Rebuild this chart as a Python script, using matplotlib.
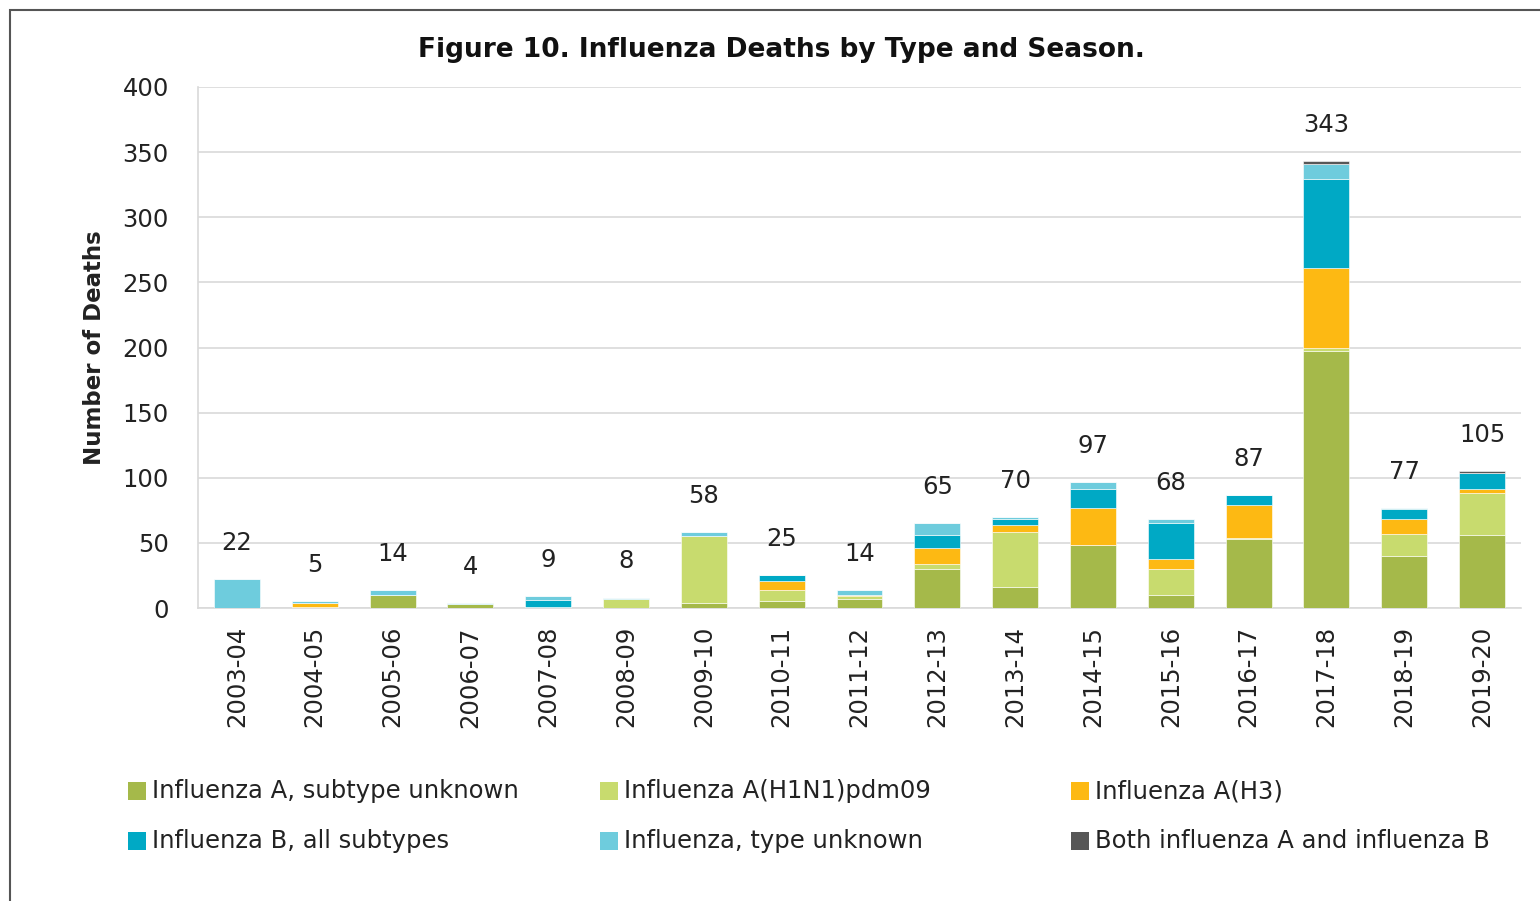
import matplotlib
matplotlib.use("Agg")
import matplotlib.pyplot as plt
import numpy as np
from matplotlib.patches import Rectangle

seasons = ["2003-04", "2004-05", "2005-06", "2006-07", "2007-08", "2008-09",
           "2009-10", "2010-11", "2011-12", "2012-13", "2013-14", "2014-15",
           "2015-16", "2016-17", "2017-18", "2018-19", "2019-20"]
a_unknown    = [0, 1, 10, 3, 1, 0, 4, 5, 7, 30, 16, 48, 10, 53, 197, 40, 56]
a_h1n1       = [0, 0, 0, 0, 0, 7, 51, 9, 2, 4, 42, 0, 20, 1, 3, 17, 32]
a_h3         = [0, 3, 0, 0, 0, 0, 0, 7, 1, 12, 6, 29, 8, 25, 61, 11, 3]
b_all        = [0, 0, 0, 0, 5, 0, 0, 4, 0, 10, 4, 14, 27, 8, 68, 8, 13]
type_unknown = [22, 1, 4, 1, 3, 1, 3, 0, 4, 9, 2, 6, 3, 0, 12, 1, 0]
both_ab      = [0, 0, 0, 0, 0, 0, 0, 0, 0, 0, 0, 0, 0, 0, 2, 0, 1]

series_names = ["Influenza A, subtype unknown", "Influenza A(H1N1)pdm09", "Influenza A(H3)",
                "Influenza B, all subtypes", "Influenza, type unknown", "Both influenza A and influenza B"]
series_vals = [a_unknown, a_h1n1, a_h3, b_all, type_unknown, both_ab]
colors = ["#A5B94A", "#C8DB6E", "#FDB913", "#00A9C5", "#6ECCDD", "#575757"]

plt.rcParams['font.family'] = ['DejaVu Sans']

fig = plt.figure(figsize=(15.4, 9.01), dpi=100)
ax = fig.add_axes([198/1540, 1-608/901, (1521-198)/1540, (608-87)/901])

x = np.arange(len(seasons))
bottom = np.zeros(len(seasons))
for name, vals, c in zip(series_names, series_vals, colors):
    v = np.array(vals, dtype=float)
    ax.bar(x, v, bottom=bottom, width=0.59, color=c, label=name, zorder=3,
           edgecolor='white', linewidth=0.4)
    bottom += v

totals = bottom
for xi, t in zip(x, totals):
    ax.annotate(f"{int(t)}", (xi, t), xytext=(0, 26), textcoords='offset points',
                ha='center', va='center', fontsize=17.5, color='#222222')

ax.set_xlim(-0.5, len(seasons) - 0.5)
ax.set_ylim(0, 400)
ax.set_yticks(range(0, 401, 50))
ax.yaxis.grid(True, color='#d9d9d9', linewidth=1.2, zorder=0)
ax.set_axisbelow(True)
for s in ['top', 'right']:
    ax.spines[s].set_visible(False)
for s in ['left', 'bottom']:
    ax.spines[s].set_color('#d9d9d9')
    ax.spines[s].set_linewidth(1.2)
ax.tick_params(axis='both', length=0, labelsize=17.5, colors='#222222')
ax.tick_params(axis='y', pad=21)
ax.tick_params(axis='x', pad=13)
ax.set_xticks(x)
ax.set_xticklabels(seasons, rotation=90)

ax.set_ylabel("Number of Deaths", fontsize=16.5, fontweight='bold', color='#222222', labelpad=12)

fig.text(781/1540, 1-50/901, "Figure 10. Influenza Deaths by Type and Season.",
         ha='center', va='center', fontsize=19, fontweight='bold', color='#111111')

# border
fig.patches.append(Rectangle((10/1540, -0.05), 1.1, 1-10/901+0.05, transform=fig.transFigure,
                             fill=False, edgecolor='#555555', linewidth=1.5))

# legend (manual)
legend_pos = [(128, 791), (600, 791), (1071, 791), (128, 841), (600, 841), (1071, 841)]
for (px, py), name, c in zip(legend_pos, series_names, colors):
    fig.patches.append(Rectangle((px/1540, 1-(py+9)/901), 18/1540, 18/901,
                                 transform=fig.transFigure, facecolor=c, edgecolor='none'))
    fig.text((px+24)/1540, 1-py/901, name, ha='left', va='center', fontsize=17.5, color='#222222')

fig.savefig("out.png", dpi=100)
